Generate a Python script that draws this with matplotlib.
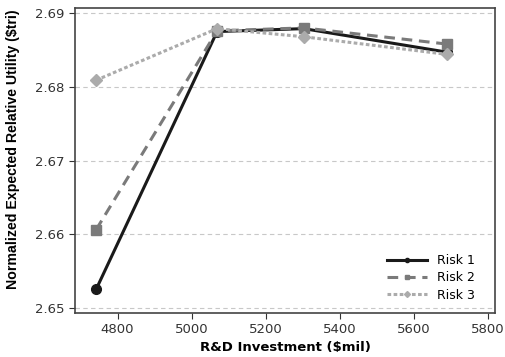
import matplotlib
matplotlib.use("Agg")
import matplotlib.pyplot as plt
from matplotlib.lines import Line2D

x = [4742, 5069, 5303, 5691]
risk1 = [2.6525, 2.6875, 2.6879, 2.6847]
risk2 = [2.6606, 2.6876, 2.6880, 2.6858]
risk3 = [2.6809, 2.6879, 2.6868, 2.6844]
xticks = [4800, 5000, 5200, 5400, 5600, 5800]
yticks = [2.65, 2.66, 2.67, 2.68, 2.69]

plt.rcParams['font.family'] = ['DejaVu Sans']
fig = plt.figure(figsize=(5.05, 3.57), dpi=100)
ax = fig.add_axes([75/505, 1-313/357, 420/505, 305/357])

ax.plot(x, risk1, color='#1a1a1a', lw=2.2, ls='-', marker='o', ms=7, zorder=3)
ax.plot(x, risk2, color='#7a7a7a', lw=2.2, ls=(0, (3.5, 2.2)), marker='s', ms=7, zorder=4)
ax.plot(x, risk3, color='#ababab', lw=2.2, ls=(0, (1.2, 0.8)), marker='D', ms=6.5, zorder=5)

ax.set_xlim(4685, 5820)
ax.set_ylim(2.6493, 2.6907)
ax.set_xticks(xticks)
ax.set_yticks(yticks)
ax.set_yticklabels([f"{v:.2f}" for v in yticks])
ax.yaxis.grid(True, ls=(0, (4, 3)), color='#c8c8c8', lw=0.8)
ax.set_axisbelow(True)
ax.tick_params(labelsize=9.5, colors='#333333', length=4)
for s in ax.spines.values():
    s.set_color('#444444')
    s.set_linewidth(1.2)

ax.set_xlabel('R&D Investment ($mil)', fontsize=9.5, fontweight='bold', labelpad=3)
ax.set_ylabel('Normalized Expected Relative Utility ($tri)', fontsize=10.2, fontweight='bold',
              family=['Liberation Sans', 'DejaVu Sans'])
ax.yaxis.set_label_coords(-0.13, 0.537)

handles = [
    Line2D([], [], color='#1a1a1a', lw=2.2, ls='-', marker='o', ms=3),
    Line2D([], [], color='#7a7a7a', lw=2.2, ls=(0, (3.5, 2.2)), marker='s', ms=3),
    Line2D([], [], color='#ababab', lw=2.2, ls=(0, (1.2, 0.8)), marker='D', ms=3),
]
ax.legend(handles, ['Risk 1', 'Risk 2', 'Risk 3'], loc='lower right', frameon=False,
          fontsize=9, handlelength=3.2, labelspacing=0.35, borderaxespad=0.5,
          bbox_to_anchor=(0.98, 0.0))

fig.savefig('out.png', dpi=100)
